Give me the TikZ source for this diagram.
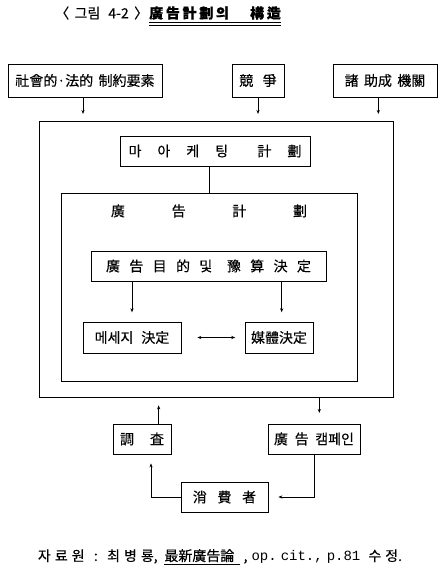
\documentclass[tikz,border=0pt]{standalone}
\usepackage{fontspec}
\setmainfont{Noto Sans CJK KR}[FakeBold=0.3]
\newfontfamily\monofn{Liberation Mono}
\usetikzlibrary{arrows.meta}
\newcommand{\gp}[1]{\hspace{#1pt}}
\tikzset{
  box/.style={draw,line width=0.6pt,inner sep=0pt,font=\fontsize{10.5}{12}\selectfont},
  arr/.style={line width=0.6pt,-{Stealth[length=3pt,width=2.4pt]}},
  conn/.style={line width=0.6pt}
}

\begin{document}
\begin{tikzpicture}[x=0.75pt,y=-0.75pt]
  \useasboundingbox (0,0) rectangle (442,576);
  % title
  \node[font=\fontsize{10.5}{12}\selectfont,anchor=west,inner sep=0pt] (fignum) at (55,13) {〈\gp{4}그림\gp{6}4-2\gp{4}〉};
  \node[font=\fontsize{10.5}{12}\selectfont\bfseries,anchor=west,inner sep=0pt] (figtitle) at (149,13) {廣\gp{2}告\gp{2}計\gp{2}劃\gp{2}의\gp{16}構\gp{2}造};
  \draw[conn] ([yshift=-2pt]figtitle.south west) -- ([yshift=-2pt]figtitle.south east);
  \draw[conn] ([yshift=-4pt]figtitle.south west) -- ([yshift=-4pt]figtitle.south east);
  % outside factors
  \node[box,minimum width=115.5pt,minimum height=24.75pt] (social) at (85,80.5) {社會的·法的\gp{4}制約要素};
  \node[box,minimum width=39pt,minimum height=24.75pt] (compete) at (258,80.5) {競\gp{7}爭};
  \node[box,minimum width=78pt,minimum height=24.75pt] (aid) at (385,80.5) {諸\gp{4}助成\gp{4}機關};
  % outer frame
  \node[box,minimum width=265.5pt,minimum height=207pt] (outer) at (216,259) {};
  \draw[arr,shorten >=5pt] ([xshift=-1.5pt]social.south) -- ([xshift=-1.5pt]social.south |- outer.north);
  \draw[arr,shorten >=5pt] (compete.south) -- (compete.south |- outer.north);
  \draw[arr,shorten >=5pt] ([xshift=-5pt]aid.south) -- ([xshift=-5pt]aid.south |- outer.north);
  % marketing / ad plan
  \node[box,minimum width=142.5pt,minimum height=22.5pt] (market) at (215,151) {마\gp{12}아\gp{12}케\gp{12}팅\gp{22}計\gp{12}劃};
  \node[box,minimum width=222pt,minimum height=141pt] (adplan) at (209,287) {};
  \node[font=\fontsize{10.5}{12}\selectfont] (adtitle) at (209,211) {廣\gp{35}告\gp{35}計\gp{35}劃};
  \draw[conn] (market.south -| adplan.north) -- (adplan.north);
  \node[box,minimum width=176.25pt,minimum height=22.5pt] (goal) at (208.5,266) {廣\gp{7}告\gp{7}目\gp{7}的\gp{7}및\gp{11}豫\gp{7}算\gp{7}決\gp{7}定};
  \node[box,minimum width=73.5pt,minimum height=23.25pt] (message) at (132,337.5) {메세지\gp{6}決定};
  \node[box,minimum width=51pt,minimum height=23.25pt] (media) at (279,337.5) {媒體決定};
  \draw[arr,shorten >=7pt] (goal.south -| message) -- (message.north);
  \draw[arr,shorten >=7pt] ([xshift=2pt]goal.south -| media) -- ([xshift=2pt]media.north);
  \draw[conn,{Stealth[length=3pt,width=2.4pt]}-{Stealth[length=3pt,width=2.4pt]},shorten <=12pt,shorten >=7pt] (message.east) -- (media.west);
  % feedback loop
  \node[box,minimum width=43.5pt,minimum height=22.5pt] (survey) at (142,439) {調\gp{12}査};
  \node[box,minimum width=69pt,minimum height=22.5pt] (campaign) at (314,439) {廣\gp{5}告\gp{5}캠페인};
  \node[box,minimum width=65.25pt,minimum height=22.5pt] (consumer) at (224.5,497) {消\gp{8}費\gp{8}者};
  \draw[arr,shorten >=8pt] ([xshift=4pt]outer.south -| campaign) -- ([xshift=4pt]campaign.north);
  \draw[arr,shorten >=6pt] ([xshift=12.5pt]survey.north) -- ([xshift=12.5pt]survey.north |- outer.south);
  \draw[arr,shorten >=7.5pt] (campaign.south) |- (consumer.east);
  \draw[arr,shorten >=6.75pt] (consumer.west) -| ([xshift=6.75pt]survey.south);
  % source
  \node[font=\fontsize{10.5}{12}\selectfont] (source) at (220,557) {자\gp{3}료\gp{3}원\gp{7}:\gp{7}최\gp{3}병\gp{3}룡,\gp{5}\underline{最新廣告論\gp{4}}\gp{3},\gp{3}{\monofn op.\gp{3}cit.,\gp{3}p.81}\gp{6}수\gp{3}정.};
\end{tikzpicture}
\end{document}
